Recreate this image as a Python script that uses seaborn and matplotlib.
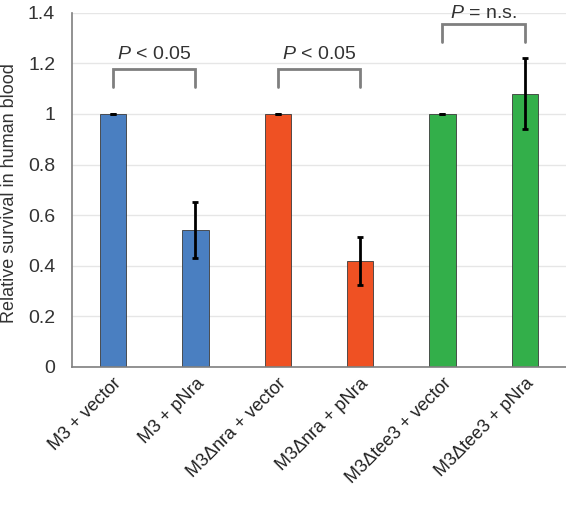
import pandas as pd
import matplotlib.pyplot as plt
import seaborn as sns

# -----------------------------
# Data
# -----------------------------
strains = ["M3 + vector", "M3 + pNra", "M3\u0394nra + vector",
           "M3\u0394nra + pNra", "M3\u0394tee3 + vector", "M3\u0394tee3 + pNra"]
survival = [1.0, 0.54, 1.0, 0.42, 1.0, 1.08]
err_low = [0.0, 0.11, 0.0, 0.095, 0.0, 0.14]
err_high = [0.0, 0.11, 0.0, 0.095, 0.0, 0.14]
bar_colors = ["#4A7FC1", "#4A7FC1", "#EF5123", "#EF5123", "#33AF4A", "#33AF4A"]

# comparisons between neighbouring strains
pairs = [(0, 1), (2, 3), (4, 5)]
bracket_top = [1.178, 1.178, 1.357]
bracket_leg = [1.107, 1.107, 1.286]
p_labels = ["$P$ < 0.05", "$P$ < 0.05", "$P$ = n.s."]
label_gap = [0.04, 0.04, 0.024]

df = pd.DataFrame({"strain": strains, "survival": survival})

# -----------------------------
# Style
# -----------------------------
sns.set_style("whitegrid")
plt.rcParams["font.family"] = ["Liberation Sans", "DejaVu Sans"]
plt.rcParams["mathtext.fontset"] = "custom"
plt.rcParams["mathtext.it"] = "Liberation Sans:italic"
plt.rcParams["mathtext.rm"] = "Liberation Sans"

fig = plt.figure(figsize=(5.66, 5.11), dpi=100)
ax = fig.add_axes([0.127, 0.282, 0.873, 0.693])

sns.barplot(
    data=df, x="strain", y="survival", hue="strain",
    palette=bar_colors, width=0.32, legend=False, saturation=1,
    edgecolor="#3a3a3a", linewidth=0.6, ax=ax
)

ax.errorbar(
    range(len(strains)), survival, yerr=[err_low, err_high],
    fmt="none", ecolor="black", elinewidth=2, capsize=2, capthick=2
)

# significance brackets
for (i, j), top, leg, lab, gap in zip(pairs, bracket_top, bracket_leg,
                                      p_labels, label_gap):
    ax.plot([i, i, j, j], [leg, top, top, leg], color="#7f7f7f",
            lw=2, clip_on=False, solid_joinstyle="miter")
    ax.text((i + j) / 2, top + gap, lab, ha="center", va="baseline",
            fontsize=14, color="#333333", clip_on=False)

ax.set_ylim(0, 1.4)
ax.set_xlim(-0.5, len(strains) - 0.5)
ax.set_yticks([0, 0.2, 0.4, 0.6, 0.8, 1.0, 1.2, 1.4])
ax.set_yticklabels(["0", "0.2", "0.4", "0.6", "0.8", "1", "1.2", "1.4"])
ax.set_xlabel("")
ax.set_ylabel("Relative survival in human blood", fontsize=13, color="#333333")
ax.yaxis.set_label_coords(-0.11, 0.49)

ax.tick_params(axis="y", labelsize=14, colors="#333333", length=0, pad=12)
ax.tick_params(axis="x", labelsize=13, colors="#222222", length=0, pad=6)
for lbl in ax.get_xticklabels():
    lbl.set_rotation(45)
    lbl.set_ha("right")
    lbl.set_rotation_mode("anchor")

ax.grid(axis="y", color="#e6e6e6", lw=1)
ax.grid(axis="x", visible=False)
for side in ["top", "right"]:
    ax.spines[side].set_visible(False)
for side in ["left", "bottom"]:
    ax.spines[side].set_color("#7f7f7f")
    ax.spines[side].set_linewidth(1.2)

fig.savefig("out.png", dpi=100)
plt.close(fig)
